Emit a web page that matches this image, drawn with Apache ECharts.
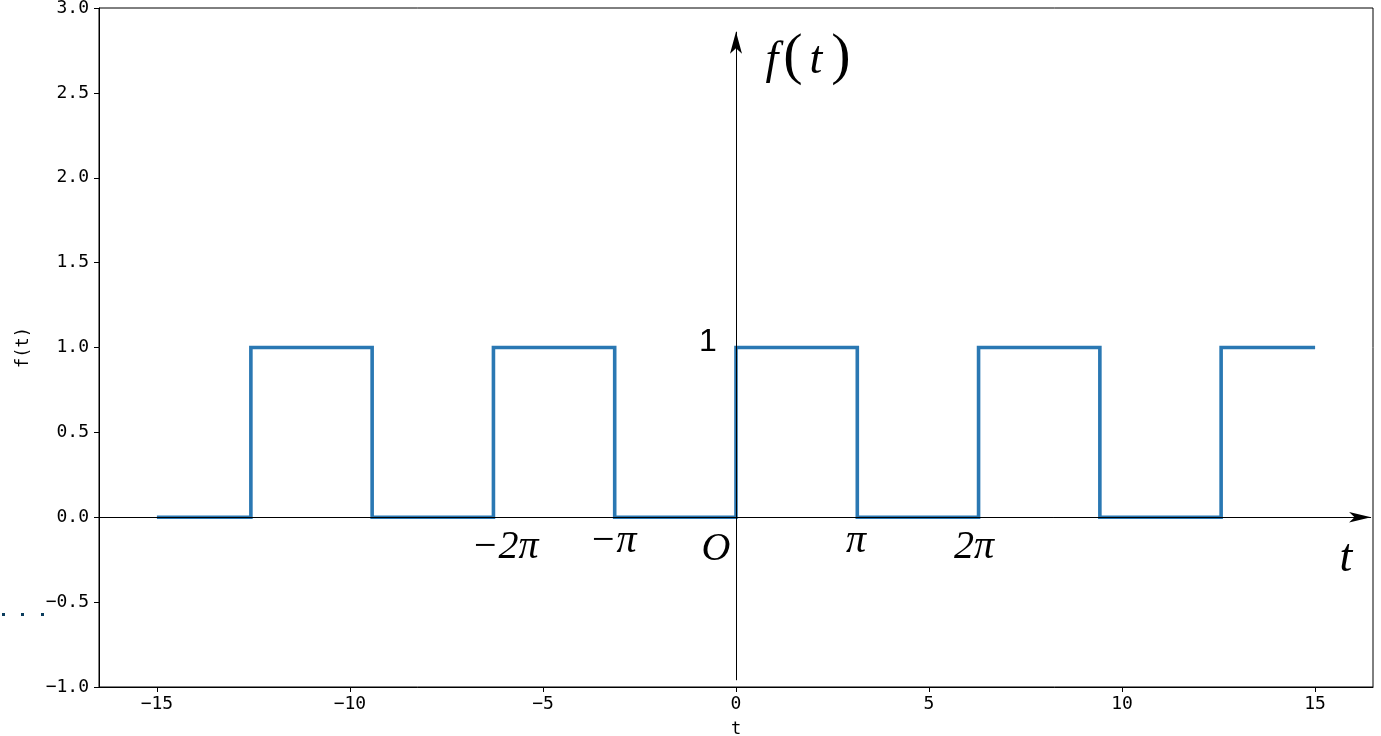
<!DOCTYPE html>
<html>
<head>
<meta charset="utf-8">
<script src="https://cdn.jsdelivr.net/npm/echarts@6/dist/echarts.min.js"></script>
<style>html,body{margin:0;padding:0;background:#fff;}#c{width:1381px;height:736px;}</style>
</head>
<body>
<div id="c"></div>
<script>
// Square wave breakpoints (t) and levels f(t)
var tValues = [-15, -12.566, -12.566, -9.425, -9.425, -6.283, -6.283, -3.142, -3.142, 0, 0, 3.142, 3.142, 6.283, 6.283, 9.425, 9.425, 12.566, 12.566, 15];
var fValues = [0, 0, 1, 1, 0, 0, 1, 1, 0, 0, 1, 1, 0, 0, 1, 1, 0, 0, 1, 1];
var xTicks = [-15, -10, -5, 0, 5, 10, 15];

var data = tValues.map(function (t, i) { return [t, fValues[i]]; });
var mono = 'DejaVu Sans Mono';
var serif = 'Liberation Serif';

var chart = echarts.init(document.getElementById('c'), null, {renderer: 'canvas'});
function txt(text, x, y, size, style, family) {
  return {type: 'text', x: x, y: y, silent: true, z: 100,
    style: {text: text, fill: '#000', font: (style || 'italic') + ' ' + size + 'px "' + (family || serif) + '"', align: 'center', verticalAlign: 'middle'}};
}
var option = {
  animation: false,
  backgroundColor: '#fff',
  grid: {left: 99, right: 8, top: 8, bottom: 49, show: true, borderColor: '#000', borderWidth: 1, backgroundColor: 'transparent', outerBoundsMode: 'none', containLabel: false},
  xAxis: {
    type: 'value', min: -16.5, max: 16.5,
    name: 't', nameLocation: 'middle', nameGap: 34,
    nameTextStyle: {fontFamily: mono, fontSize: 17, color: '#000'},
    axisLine: {show: true, onZero: false, lineStyle: {color: '#000', width: 1}},
    axisTick: {show: true, length: 5, customValues: xTicks, lineStyle: {color: '#000'}},
    axisLabel: {customValues: xTicks, margin: 8, fontFamily: mono, fontSize: 18, color: '#000',
      formatter: function (v) { return String(v).replace('-', '\u2212'); }},
    splitLine: {show: false}
  },
  yAxis: {
    type: 'value', min: -1, max: 3, interval: 0.5,
    name: 'f(t)', nameLocation: 'middle', nameGap: 67, nameRotate: 90,
    nameTextStyle: {fontFamily: mono, fontSize: 17, color: '#000'},
    axisLine: {show: true, onZero: false, lineStyle: {color: '#000', width: 1}},
    axisTick: {show: true, length: 5, lineStyle: {color: '#000'}},
    axisLabel: {margin: 10, fontFamily: mono, fontSize: 18, color: '#000',
      formatter: function (v) { return v.toFixed(1).replace('-', '\u2212'); }},
    splitLine: {show: false}
  },
  series: [{
    type: 'line', data: data, showSymbol: false, symbol: 'none',
    lineStyle: {color: '#2a78b3', width: 3.6, join: 'miter'},
    clip: false,
    markLine: {
      silent: true, animation: false,
      label: {show: false},
      lineStyle: {color: '#000', width: 1, type: 'solid'},
      data: [
        [{coord: [0, -0.96], symbol: 'none'}, {coord: [0, 2.86], symbol: 'arrow', symbolSize: [9, 22]}],
        [{coord: [-16.5, 0], symbol: 'none'}, {coord: [16.45, 0], symbol: 'arrow', symbolSize: [8, 22]}]
      ]
    }
  }],
  graphic: [
    txt('f', 772, 61, 46),
    txt('(', 793, 58, 58, 'normal'),
    txt('t', 816, 61, 46),
    txt(')', 841, 58, 58, 'normal'),
    txt('t', 1346, 559, 46),
    txt('O', 716, 549, 40),
    txt('\u2212\u03c0', 613, 541, 40),
    txt('\u22122\u03c0', 505, 547, 40),
    txt('\u03c0', 856, 541, 40),
    txt('2\u03c0', 974, 547, 40),
    txt('1', 708, 342, 32, 'normal', 'Liberation Sans'),
    {type: 'rect', x: 2, y: 613, silent: true, shape: {width: 3, height: 3}, style: {fill: '#0b3c5d'}},
    {type: 'rect', x: 21, y: 613, silent: true, shape: {width: 3, height: 3}, style: {fill: '#0b3c5d'}},
    {type: 'rect', x: 41, y: 613, silent: true, shape: {width: 3, height: 3}, style: {fill: '#0b3c5d'}}
  ]
};
chart.setOption(option);
</script>
</body>
</html>
